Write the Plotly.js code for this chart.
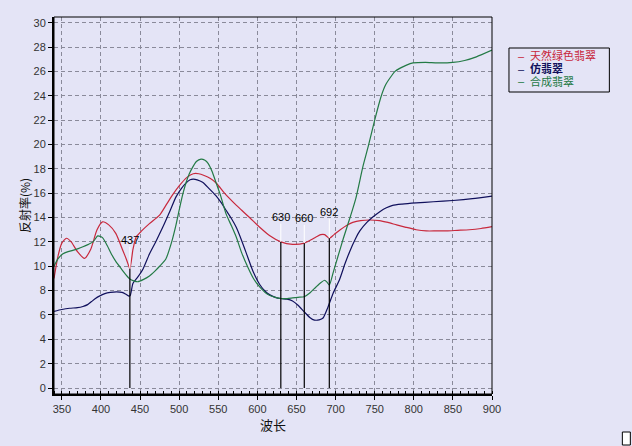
<!DOCTYPE html>
<html>
<head>
<meta charset="utf-8">
<script src="https://cdn.plot.ly/plotly-3.0.1.min.js"></script>
<style>
  html, body { margin: 0; padding: 0; background: #e4e4f6; }
  #chart { width: 632px; height: 446px; }
</style>
</head>
<body>
<div id="chart"></div>
<script>
// ---- Data ----
const seriesNames = ['天然绿色翡翠', '仿翡翠', '合成翡翠'];

// 天然绿色翡翠 (natural green jadeite)
const naturalX = [340, 345, 350, 356, 362, 370, 379, 387, 395, 402, 410, 419, 428, 433, 437, 441, 445, 452, 462, 475, 484, 492, 500, 510, 518, 525, 532, 540, 548, 558, 570, 580, 590, 603, 616, 630, 645, 660, 668, 675, 681, 686, 692, 698, 706, 714, 722, 732, 744, 756, 767, 778, 790, 803, 816, 829, 842, 856, 871, 886, 900];
const naturalY = [9.0, 10.8, 11.9, 12.3, 12.0, 11.2, 10.65, 11.4, 13.0, 13.65, 13.4, 12.7, 11.3, 10.5, 9.8, 11.4, 12.4, 12.9, 13.5, 14.2, 15.1, 15.9, 16.6, 17.3, 17.6, 17.6, 17.45, 17.2, 16.8, 16.0, 15.2, 14.6, 14.0, 13.2, 12.5, 12.0, 11.8, 11.9, 12.15, 12.4, 12.6, 12.6, 12.3, 12.6, 13.0, 13.35, 13.6, 13.75, 13.8, 13.75, 13.6, 13.4, 13.2, 13.0, 12.9, 12.9, 12.9, 12.95, 13.0, 13.1, 13.25];

// 仿翡翠 (imitation jadeite)
const imitationX = [340, 350, 360, 370, 377, 383, 388, 393, 398, 405, 412, 420, 427, 432, 436, 437.5, 441, 447, 454, 462, 470, 479, 488, 496, 503, 509, 514, 518, 523, 530, 538, 547, 554, 560, 567, 573, 580, 588, 595, 603, 610, 616, 623, 630, 638, 645, 652, 660, 667, 673, 679, 684, 690, 697, 705, 712, 718, 725, 731, 740, 748, 757, 765, 773, 785, 803, 825, 850, 875, 900];
const imitationY = [6.3, 6.45, 6.55, 6.6, 6.7, 6.85, 7.1, 7.35, 7.55, 7.75, 7.85, 7.9, 7.85, 7.7, 7.55, 7.6, 8.6, 9.1, 9.8, 11.0, 12.0, 13.2, 14.5, 15.7, 16.4, 16.85, 17.1, 17.15, 17.1, 16.9, 16.4, 15.8, 15.2, 14.6, 13.9, 13.2, 12.1, 10.7, 9.5, 8.5, 7.95, 7.65, 7.45, 7.35, 7.3, 7.15, 6.8, 6.25, 5.8, 5.58, 5.6, 5.75, 6.6, 7.8, 8.9, 10.2, 11.2, 12.2, 12.9, 13.6, 14.06, 14.5, 14.8, 15.0, 15.1, 15.2, 15.3, 15.4, 15.55, 15.76];

// 合成翡翠 (synthetic jadeite)
const syntheticX = [340, 345, 351, 358, 364, 371, 377, 384, 390, 396, 402, 408, 413, 419, 426, 432, 437, 442, 447, 454, 462, 469, 475, 483, 490, 496, 501, 505, 509, 513, 517, 522, 528, 533, 537, 542, 547, 553, 560, 567, 573, 580, 588, 595, 603, 610, 616, 623, 630, 638, 645, 652, 660, 667, 675, 681, 686, 689, 692, 697, 703, 710, 718, 726, 735, 742, 750, 758, 764, 770, 776, 782, 790, 799, 815, 830, 850, 865, 880, 900];
const syntheticY = [10.0, 10.6, 11.0, 11.2, 11.3, 11.45, 11.6, 11.8, 12.0, 12.5, 12.35, 11.7, 11.05, 10.4, 9.8, 9.3, 8.95, 8.8, 8.73, 8.9, 9.2, 9.6, 10.0, 10.6, 11.9, 13.4, 14.9, 16.0, 16.9, 17.6, 18.1, 18.6, 18.8, 18.7, 18.45, 17.8, 16.9, 15.8, 14.3, 13.3, 12.4, 11.1, 9.9, 9.0, 8.3, 7.85, 7.6, 7.45, 7.35, 7.35, 7.4, 7.45, 7.5, 7.8, 8.3, 8.65, 8.85, 8.7, 8.45, 9.5, 10.8, 12.3, 13.9, 15.6, 18.2, 19.9, 22.0, 23.9, 24.9, 25.5, 26.0, 26.25, 26.5, 26.7, 26.75, 26.7, 26.74, 26.9, 27.2, 27.75];

// Marked wavelengths: black line from 0 up to curve, white line up to the label
const markWavelengths = [437, 630, 660, 692];
const markCurveValues = [9.8, 12.0, 11.9, 12.3];
const markLabelBase = [11.6, 13.5, 13.4, 13.9];
const markLabels = ['437', '630', '660', '692'];

const xTickValues = [350, 400, 450, 500, 550, 600, 650, 700, 750, 800, 850, 900];
const yTickValues = [0, 2, 4, 6, 8, 10, 12, 14, 16, 18, 20, 22, 24, 26, 28, 30];

// ---- Styles ----
const BG = '#e4e4f6';
const colors = ['#c8283c', '#10105c', '#237a45'];
const CJK = '"Noto Sans CJK SC", "Noto Sans", sans-serif';
const LAT = '"Liberation Sans", Arial, sans-serif';
const LEG = '"Liberation Sans", "Noto Sans CJK SC", sans-serif';

const PLOT_L = 54, PLOT_R = 492.5, PLOT_T = 17, PLOT_B = 394;
const px2x = px => (px - PLOT_L) / (PLOT_R - PLOT_L);
const py2y = py => (PLOT_B - py) / (PLOT_B - PLOT_T);

const curveTrace = (xs, ys, i) => ({
  x: xs, y: ys, type: 'scatter', mode: 'lines', name: seriesNames[i],
  line: { color: colors[i], width: 1.2, shape: 'spline', smoothing: 0.6 },
  showlegend: false, hoverinfo: 'skip'
});

const blackX = [], blackY = [], whiteX = [], whiteY = [];
markWavelengths.forEach((w, i) => {
  blackX.push(w, w, null); blackY.push(0, markCurveValues[i], null);
  whiteX.push(w, w, null); whiteY.push(markCurveValues[i], markLabelBase[i], null);
});

const traces = [
  curveTrace(naturalX, naturalY, 0),
  curveTrace(imitationX, imitationY, 1),
  curveTrace(syntheticX, syntheticY, 2),
  { x: whiteX, y: whiteY, type: 'scatter', mode: 'lines', line: { color: '#ffffff', width: 1 }, showlegend: false, hoverinfo: 'skip' },
  { x: blackX, y: blackY, type: 'scatter', mode: 'lines', line: { color: '#000000', width: 1.2 }, showlegend: false, hoverinfo: 'skip' }
];

const annotations = markWavelengths.map((w, i) => ({
  x: w, y: markLabelBase[i], xref: 'x', yref: 'y', text: markLabels[i],
  showarrow: false, xanchor: 'center', yanchor: 'bottom', borderpad: 0,
  font: { family: LAT, size: 11, color: '#000' }
}));

// Manual legend
const legendRows = [56.0, 68.6, 81.2];
seriesNames.forEach((name, i) => {
  annotations.push({
    x: px2x(518), y: py2y(legendRows[i]), xref: 'paper', yref: 'paper', text: '–',
    showarrow: false, xanchor: 'left', yanchor: 'middle', borderpad: 0,
    font: { family: LAT, size: 11, color: colors[i] }
  });
  annotations.push({
    x: px2x(530), y: py2y(legendRows[i]), xref: 'paper', yref: 'paper',
    text: i === 1 ? '<b>' + name + '</b>' : name,
    showarrow: false, xanchor: 'left', yanchor: 'middle', borderpad: 0,
    font: { family: LEG, size: 11, color: colors[i] }
  });
});

const layout = {
  width: 632, height: 446,
  margin: { l: PLOT_L, r: 632 - PLOT_R, t: PLOT_T, b: 446 - PLOT_B, pad: 0 },
  paper_bgcolor: BG, plot_bgcolor: BG,
  showlegend: false,
  xaxis: {
    range: [340, 900], tickvals: xTickValues, ticks: 'outside', ticklen: 4, tickcolor: '#000',
    showline: true, linecolor: '#000', linewidth: 2,
    showgrid: true, gridcolor: '#8a8a9a', griddash: '4px,3px', gridwidth: 1,
    zeroline: false,
    minor: { dtick: 10, tick0: 350, ticks: 'inside', ticklen: 3, tickcolor: '#000', showgrid: false },
    tickfont: { family: LAT, size: 11, color: '#333' },
    title: { text: '波长', font: { family: CJK, size: 13, color: '#111' }, standoff: 0 },
    fixedrange: true
  },
  yaxis: {
    range: [-0.49, 30.47], tickvals: yTickValues, ticks: 'outside', ticklen: 4, tickcolor: '#000',
    showline: true, linecolor: '#000', linewidth: 2,
    showgrid: true, gridcolor: '#8a8a9a', griddash: '4px,3px', gridwidth: 1,
    zeroline: false,
    tickfont: { family: LAT, size: 11, color: '#333' },
    title: { text: '反射率(%)', font: { family: CJK, size: 12, color: '#111' }, standoff: 0 },
    fixedrange: true
  },
  shapes: [
    { type: 'rect', xref: 'paper', yref: 'paper', x0: 0, x1: 1, y0: 0, y1: 1, line: { color: '#000', width: 1 }, fillcolor: 'rgba(0,0,0,0)' },
    { type: 'rect', xref: 'paper', yref: 'paper', x0: px2x(509.5), x1: px2x(610), y0: py2y(92), y1: py2y(48), line: { color: '#000', width: 1 }, fillcolor: 'rgba(0,0,0,0)' },
    { type: 'rect', xref: 'paper', yref: 'paper', x0: px2x(623), x1: px2x(631), y0: py2y(445), y1: py2y(432), line: { color: '#000', width: 1 }, fillcolor: '#ffffff' }
  ],
  annotations: annotations
};

Plotly.newPlot('chart', traces, layout, { displayModeBar: false, staticPlot: true });
</script>
</body>
</html>
